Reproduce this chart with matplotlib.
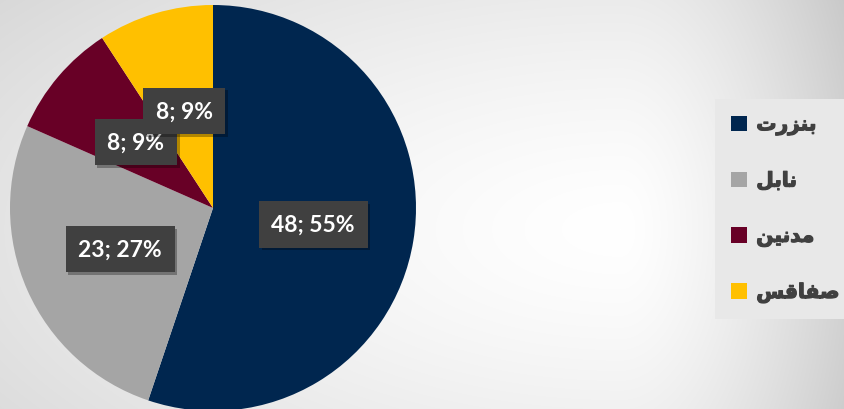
import numpy as np
import matplotlib.pyplot as plt
import matplotlib.patheffects as pe

# data
cities = ['بنزرت', 'نابل', 'مدنين', 'صفاقس']
counts = [48, 23, 8, 8]
percents = [55, 27, 9, 9]
colors = ['#00264F', '#A5A5A5', '#680026', '#FFC000']

# presentation forms: isolated, final, initial, medial
FORMS = {
    'ا': (0xFE8D, 0xFE8E, None, None),
    'ب': (0xFE8F, 0xFE90, 0xFE91, 0xFE92),
    'ت': (0xFE95, 0xFE96, 0xFE97, 0xFE98),
    'د': (0xFEA9, 0xFEAA, None, None),
    'ر': (0xFEAD, 0xFEAE, None, None),
    'ز': (0xFEAF, 0xFEB0, None, None),
    'س': (0xFEB1, 0xFEB2, 0xFEB3, 0xFEB4),
    'ص': (0xFEB9, 0xFEBA, 0xFEBB, 0xFEBC),
    'ف': (0xFED1, 0xFED2, 0xFED3, 0xFED4),
    'ق': (0xFED5, 0xFED6, 0xFED7, 0xFED8),
    'ل': (0xFEDD, 0xFEDE, 0xFEDF, 0xFEE0),
    'م': (0xFEE1, 0xFEE2, 0xFEE3, 0xFEE4),
    'ن': (0xFEE5, 0xFEE6, 0xFEE7, 0xFEE8),
    'ي': (0xFEF1, 0xFEF2, 0xFEF3, 0xFEF4),
}
NO_LEFT_JOIN = set('ادذرزو')


def shape(word):
    out = []
    for i, ch in enumerate(word):
        prev_j = i > 0 and word[i - 1] not in NO_LEFT_JOIN
        next_j = i < len(word) - 1 and ch not in NO_LEFT_JOIN
        iso, fin, ini, med = FORMS[ch]
        if prev_j and next_j:
            c = med
        elif prev_j:
            c = fin
        elif next_j:
            c = ini
        else:
            c = iso
        out.append(chr(c))
    return ''.join(reversed(out))


W, H = 844, 410
fig = plt.figure(figsize=(W / 100, H / 100), dpi=100)

# background gradient
bg = fig.add_axes([0, 0, 1, 1], zorder=-5)
yy, xx = np.mgrid[0:H, 0:W]
sx = np.where(xx > 620, 230.0, 900.0)
d = np.sqrt(((xx - 620) / sx) ** 2 + ((yy - 230) / 420) ** 2)
v = 1 - 0.18 * np.clip(d, 0, 1.2) ** 1.4
bg.imshow(np.dstack([v, v, v]), aspect='auto', extent=[0, 1, 0, 1])
bg.set_axis_off()

# pie axes: centre (213, 209) px, radius 203 px
cx, cy, r = 213, 209, 203
ax = fig.add_axes([(cx - r) / W, 1 - (cy + r) / H, 2 * r / W, 2 * r / H])
wedges, texts, autotexts = ax.pie(
    counts, colors=colors, startangle=90, counterclock=False,
    autopct='%d', pctdistance=0.5, wedgeprops=dict(linewidth=0),
    textprops=dict(color='white', fontsize=16.5, fontweight='bold', family='Lato'))
ax.set_xlim(-1, 1)
ax.set_ylim(-1, 1)

for t, n, p in zip(autotexts, counts, percents):
    t.set_text('%d; %d%%' % (n, p))
    t.set_bbox(dict(boxstyle='square,pad=0.55', facecolor='#404040', edgecolor='none'))
    t.get_bbox_patch().set_path_effects([
        pe.SimplePatchShadow(offset=(2, -2), shadow_rgbFace='black', alpha=0.3),
        pe.Normal()])

leg = fig.legend(wedges, [shape(c) for c in cities],
                 loc='center left', bbox_to_anchor=(715 / W, 1 - 210 / H),
                 frameon=True, facecolor='#E8E8E8', edgecolor='none', framealpha=1,
                 fancybox=False, fontsize=14.5, labelspacing=1.8,
                 handlelength=0.8, handleheight=0.8, handletextpad=0.45,
                 borderpad=0.8, borderaxespad=0)
for t in leg.get_texts():
    t.set_color('#404040')
    t.set_fontweight('bold')
    t.set_family('DejaVu Sans')
    t.set_path_effects([pe.withStroke(linewidth=0.9, foreground='#404040')])

fig.savefig('out.png', dpi=100)
